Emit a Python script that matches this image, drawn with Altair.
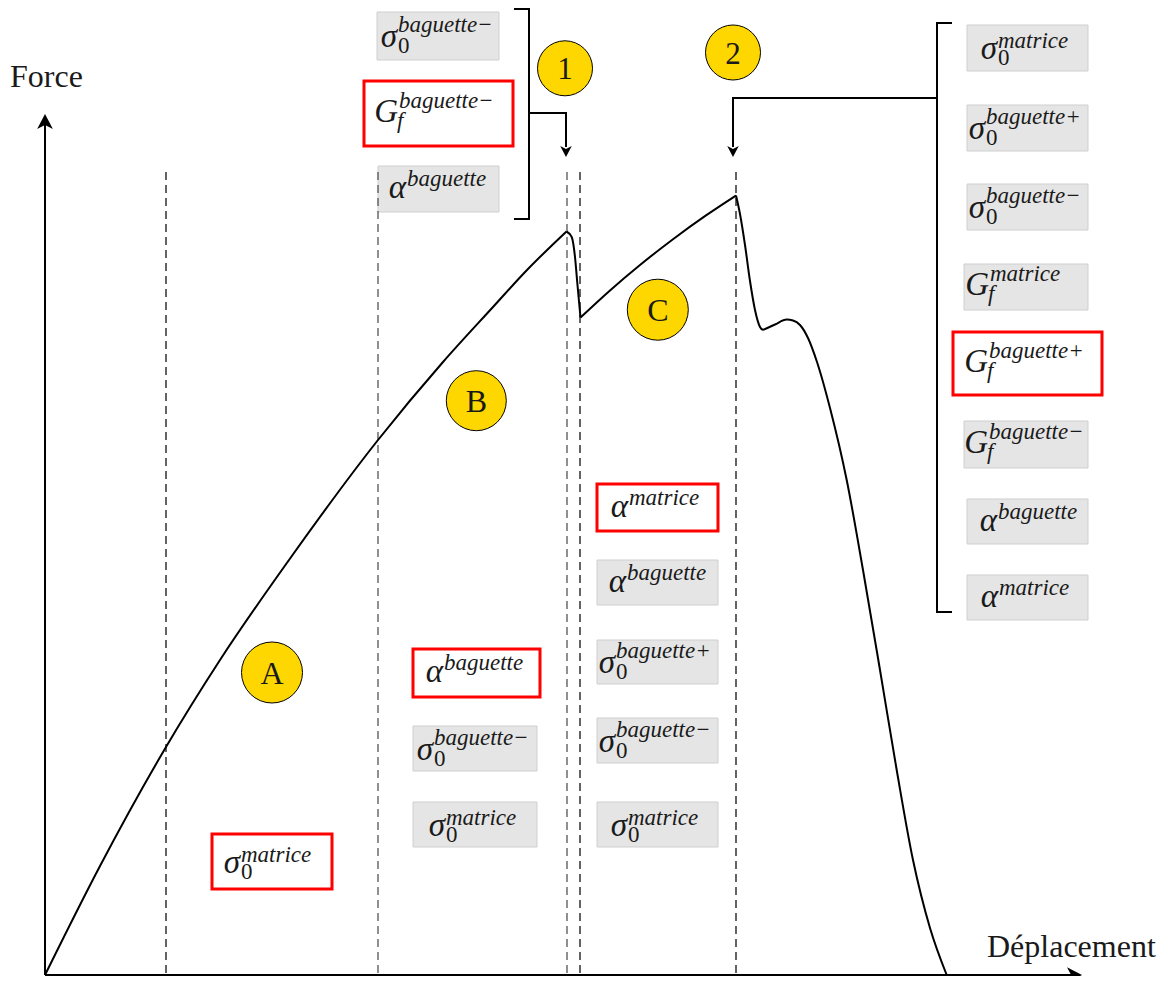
import altair as alt
import pandas as pd

# ---------------- curve (figure units: x right, y down) ----------------
seg1_x = [45, 100, 166, 220, 289, 378, 443, 493, 527, 566.5]
seg1_y = [975, 866, 747, 660, 560, 440, 362, 307, 270, 231.5]
seg2_x = [566.5, 571.7, 575, 577.3, 580.5]
seg2_y = [231.5, 237, 257, 283, 317.5]
seg3_x = [580.5, 610, 640, 673, 706, 736]
seg3_y = [317.5, 290.4, 265, 239.2, 215.4, 195.5]
seg4_x = [736, 740, 745, 750, 755, 760, 763]
seg4_y = [195.5, 214, 245, 281, 310, 327, 330]
seg5_x = [763, 775, 786.7, 793, 800, 808, 817, 830, 846.7, 863, 880, 896.7, 913, 930, 946.7]
seg5_y = [330, 324.5, 319.6, 320.5, 325, 338, 362, 408, 480, 570, 670, 770, 860, 928, 975]

# ---------------- dashed guides ----------------
guide_x = [166, 378, 567, 580, 736]
guide_tone = ["#111111", "#555555", "#555555", "#111111", "#111111"]
guide_top = [172, 172, 172, 172, 172]
guide_bottom = [975, 975, 975, 975, 975]

# ---------------- axes ----------------
axis_x = [45, 1072]
axis_y = [975, 122]
axis_tip_x = [1082, 45]
axis_tip_y = [975, 114]
axis_tip_angle = [0, 270]
axis_names = ["Force", "Déplacement"]
axis_name_x = [10, 987]
axis_name_y = [87, 957]

# ---------------- region markers ----------------
mark_txt = ["A", "B", "C", "1", "2"]
mark_x = [272, 476.3, 657.8, 565, 733]
mark_y = [672.5, 400.7, 309.7, 68.3, 52.5]
mark_d = [61, 60, 61, 55, 55]

# ---------------- brackets (polylines) ----------------
br_id = [0, 0, 0, 0, 1, 1, 1, 2, 2, 2, 2, 3, 3, 3]
br_x = [514, 529, 529, 514, 529, 566, 566, 952, 937, 937, 952, 937, 733, 733]
br_y = [9, 9, 219, 219, 113, 113, 147, 23, 23, 612, 612, 98, 98, 147]
br_tip_x = [566, 733]
br_tip_y = [157, 157]

# ---------------- parameter boxes ----------------
box_x1 = [377, 364, 378, 967, 967, 967, 964, 953, 964, 967, 967, 597, 597, 597, 597, 597, 413, 413, 413, 212]
box_y1 = [12, 81, 166, 25, 105, 184, 264, 332, 421, 499, 575, 484, 560, 640, 718, 802, 649, 726, 802, 834]
box_x2 = [499, 513, 499, 1088, 1088, 1088, 1088, 1102, 1088, 1088, 1088, 718, 718, 718, 718, 718, 540, 537, 537, 332]
box_y2 = [60, 146, 212, 71, 151, 230, 310, 395, 468, 544, 620, 531, 605, 684, 763, 847, 697, 771, 847, 889]
box_red = [0, 1, 0, 0, 0, 0, 0, 1, 0, 0, 0, 1, 0, 0, 0, 0, 1, 0, 0, 1]
lab_main = ["σ", "G", "α", "σ", "σ", "σ", "G", "G", "G", "α", "α", "α", "α", "σ", "σ", "σ", "α", "σ", "σ", "σ"]
lab_sup = ["baguette−", "baguette−", "baguette", "matrice", "baguette+", "baguette−", "matrice",
           "baguette+", "baguette−", "baguette", "matrice", "matrice", "baguette", "baguette+",
           "baguette−", "matrice", "baguette", "baguette−", "matrice", "matrice"]
lab_sub = ["0", "f", "", "0", "0", "0", "f", "f", "f", "", "", "", "", "0", "0", "0", "", "0", "0", "0"]
lab_ax = [397, 398, 406, 997, 985, 985, 989, 988, 988, 997, 998, 628, 626, 615, 615, 627, 443, 433, 445, 240]

# ---------------- build tables ----------------
curve_rows = []
for s, (xs_, ys_) in enumerate([(seg1_x, seg1_y), (seg2_x, seg2_y), (seg3_x, seg3_y),
                                 (seg4_x, seg4_y), (seg5_x, seg5_y)]):
    for i, (a, b) in enumerate(zip(xs_, ys_)):
        curve_rows.append(dict(seg=s, i=i, x=a, y=b))
curve_df = pd.DataFrame(curve_rows)

guides_df = pd.DataFrame(dict(x=guide_x, y=guide_top, y2=guide_bottom, c=guide_tone))

axes_df = pd.DataFrame(dict(x=[axis_x[0], axis_x[0]], x2=[axis_x[1], axis_x[0]],
                            y=[axis_y[0], axis_y[0]], y2=[axis_y[0], axis_y[1]]))
tips_df = pd.DataFrame(dict(x=axis_tip_x, y=axis_tip_y, a=axis_tip_angle))
br_df = pd.DataFrame(dict(g=br_id, i=list(range(len(br_id))), x=br_x, y=br_y))
brtip_df = pd.DataFrame(dict(x=br_tip_x, y=br_tip_y, a=[90, 90]))
marks_df = pd.DataFrame(dict(x=mark_x, y=mark_y, s=[d * d for d in mark_d], t=mark_txt))

boxes_df = pd.DataFrame(dict(x=box_x1, x2=box_x2, y=box_y1, y2=box_y2,
                             fill=["#ffffff" if r else "#e5e5e5" for r in box_red],
                             stroke=["#ff0000" if r else "#cfcfcf" for r in box_red],
                             sw=[3 if r else 1 for r in box_red]))

MAIN, SCRIPT = 33, 23
frags = []
for i in range(len(box_x1)):
    cy = (box_y1[i] + box_y2[i]) / 2
    m, sup, sub, ax = lab_main[i], lab_sup[i], lab_sub[i], lab_ax[i]
    if m == "σ":
        my, sy, by = cy + 11, (cy + 0 if sup == "matrice" else cy - 4), cy + 17
    elif m == "G":
        my, sy, by = cy + 8, cy - 6, cy + 14
    else:
        my, sy, by = cy + 9, cy - 3, None
    frags.append(dict(x=ax, y=my, t=m, s=MAIN, k="it_r"))
    frags.append(dict(x=ax + 1, y=sy, t=sup, s=SCRIPT, k="it_l"))
    if sub == "0":
        frags.append(dict(x=ax + 1, y=by, t="0", s=SCRIPT, k="rm_l"))
    elif sub == "f":
        frags.append(dict(x=ax - 1, y=by, t="f", s=SCRIPT, k="it_l"))
for t, x, y in zip(axis_names, axis_name_x, axis_name_y):
    frags.append(dict(x=x, y=y, t=t, s=32, k="rm_l"))
for t, x, y in zip(mark_txt, mark_x, mark_y):
    frags.append(dict(x=x, y=y + 11, t=t, s=32 if t.isalpha() else 31, k="rm_c"))
frag_df = pd.DataFrame(frags)

# ---------------- scales ----------------
XS = alt.Scale(domain=[8, 1159], nice=False, zero=False)
YS = alt.Scale(domain=[8, 976], nice=False, zero=False, reverse=True)


def X(f="x"):
    return alt.X(f"{f}:Q", scale=XS, axis=None)


def Y(f="y"):
    return alt.Y(f"{f}:Q", scale=YS, axis=None)


FONT = "'Liberation Serif', 'Times New Roman', 'DejaVu Serif', serif"
ARROW = "M0,0 L-2,-1.05 L-1.45,0 L-2,1.05 Z"

guides = alt.Chart(guides_df).mark_rule(strokeDash=[8, 5], strokeWidth=1.3).encode(
    x=X(), y=Y(), y2="y2:Q", color=alt.Color("c:N", scale=None))

boxes = alt.Chart(boxes_df).mark_rect().encode(
    x=X(), x2="x2:Q", y=Y(), y2="y2:Q",
    fill=alt.Fill("fill:N", scale=None), stroke=alt.Stroke("stroke:N", scale=None),
    strokeWidth=alt.StrokeWidth("sw:Q", scale=None))

curve = alt.Chart(curve_df).mark_line(color="black", strokeWidth=2, interpolate="monotone",
                                      strokeJoin="round").encode(
    x=X(), y=Y(), detail="seg:N", order="i:Q")

axes = alt.Chart(axes_df).mark_rule(color="black", strokeWidth=2).encode(
    x=X(), x2="x2:Q", y=Y(), y2="y2:Q")

tips = alt.Chart(tips_df).mark_point(shape=ARROW, filled=True, color="black", size=225, opacity=1).encode(
    x=X(), y=Y(), angle=alt.Angle("a:Q", scale=None))

brackets = alt.Chart(br_df).mark_line(color="black", strokeWidth=2, strokeJoin="miter").encode(
    x=X(), y=Y(), detail="g:N", order="i:Q")

brtips = alt.Chart(brtip_df).mark_point(shape=ARROW, filled=True, color="black", size=121, opacity=1).encode(
    x=X(), y=Y(), angle=alt.Angle("a:Q", scale=None))

circles = alt.Chart(marks_df).mark_point(shape="circle", filled=True, fill="#ffd700", stroke="black",
                                         strokeWidth=1, opacity=1).encode(
    x=X(), y=Y(), size=alt.Size("s:Q", scale=None))


def text_layer(kind, align, style):
    return alt.Chart(frag_df).transform_filter(alt.datum.k == kind).mark_text(
        align=align, baseline="alphabetic", font=FONT, fontStyle=style, color="#1a1a1a").encode(
        x=X(), y=Y(), text="t:N", size=alt.Size("s:Q", scale=None))


texts = [text_layer("it_r", "right", "italic"), text_layer("it_l", "left", "italic"),
         text_layer("rm_l", "left", "normal"), text_layer("rm_c", "center", "normal")]

chart = alt.layer(boxes, guides, curve, axes, tips, brackets, brtips, circles, *texts).properties(
    width=1151, height=968, autosize=alt.AutoSizeParams(type="none"), padding=0,
    background="white").configure_view(stroke=None)

chart.save("out.html", embed_options={"renderer": "svg", "actions": False})
